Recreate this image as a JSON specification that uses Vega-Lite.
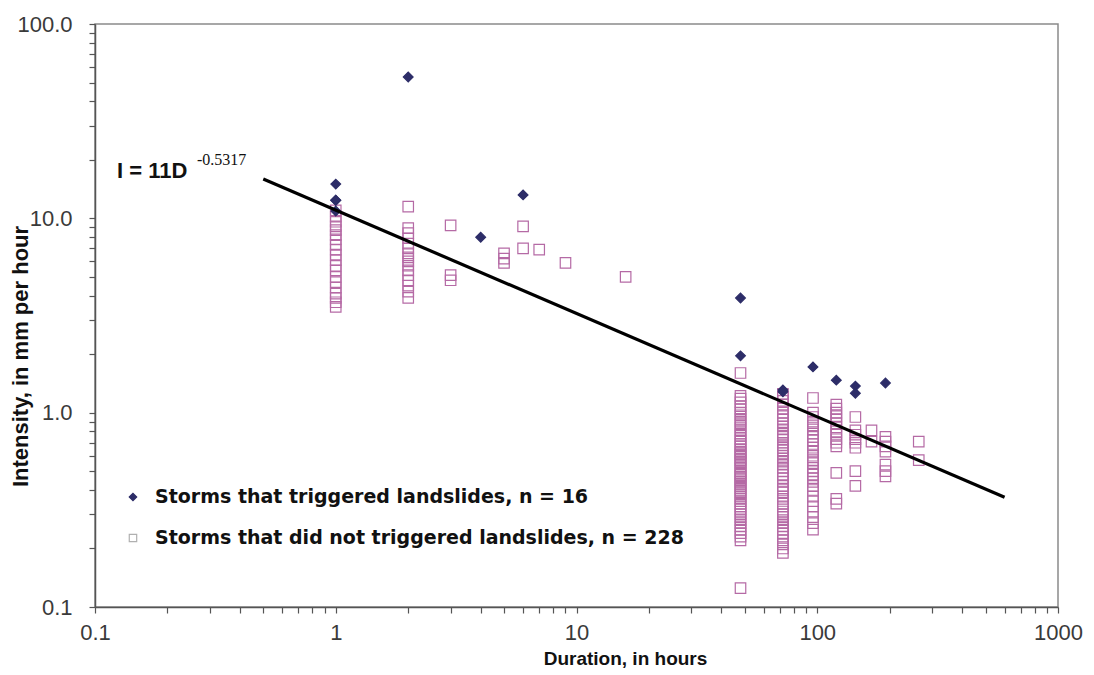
{
  "$schema": "https://vega.github.io/schema/vega-lite/v6.json",
  "width": 963,
  "height": 583,
  "autosize": {"type": "none"},
  "padding": {"left": 95, "top": 24, "right": 36, "bottom": 68},
  "background": "white",
  "config": {
    "font": "Liberation Sans",
    "view": {"stroke": "#8a8a8a", "strokeWidth": 1.5},
    "axis": {
      "grid": false,
      "domainColor": "#555555",
      "domainWidth": 1.5,
      "tickColor": "#555555",
      "tickWidth": 1.2,
      "tickSize": 6,
      "labelFont": "Liberation Sans",
      "labelFontSize": 22,
      "labelColor": "#3a3a3a",
      "titleFont": "Liberation Sans",
      "titleFontWeight": "bold",
      "titleColor": "#111111"
    }
  },
  "datasets": {
    "storms": [
      {"D": 1, "I": 11.0, "type": "no"}, {"D": 1, "I": 10.2, "type": "no"}, {"D": 1, "I": 9.6, "type": "no"}, {"D": 1, "I": 9.1, "type": "no"},
      {"D": 1, "I": 8.7, "type": "no"}, {"D": 1, "I": 8.2, "type": "no"}, {"D": 1, "I": 7.8, "type": "no"}, {"D": 1, "I": 7.3, "type": "no"},
      {"D": 1, "I": 6.9, "type": "no"}, {"D": 1, "I": 6.5, "type": "no"}, {"D": 1, "I": 6.1, "type": "no"}, {"D": 1, "I": 5.7, "type": "no"},
      {"D": 1, "I": 5.4, "type": "no"}, {"D": 1, "I": 5.0, "type": "no"}, {"D": 1, "I": 4.7, "type": "no"}, {"D": 1, "I": 4.4, "type": "no"},
      {"D": 1, "I": 4.1, "type": "no"}, {"D": 1, "I": 3.9, "type": "no"}, {"D": 1, "I": 3.7, "type": "no"}, {"D": 1, "I": 3.5, "type": "no"},
      {"D": 2, "I": 11.5, "type": "no"}, {"D": 2, "I": 8.9, "type": "no"}, {"D": 2, "I": 8.4, "type": "no"}, {"D": 2, "I": 7.9, "type": "no"},
      {"D": 2, "I": 7.4, "type": "no"}, {"D": 2, "I": 7.0, "type": "no"}, {"D": 2, "I": 6.6, "type": "no"}, {"D": 2, "I": 6.3, "type": "no"},
      {"D": 2, "I": 6.0, "type": "no"}, {"D": 2, "I": 5.7, "type": "no"}, {"D": 2, "I": 5.4, "type": "no"}, {"D": 2, "I": 5.1, "type": "no"},
      {"D": 2, "I": 4.8, "type": "no"}, {"D": 2, "I": 4.5, "type": "no"}, {"D": 2, "I": 4.2, "type": "no"}, {"D": 2, "I": 3.9, "type": "no"},
      {"D": 3, "I": 9.2, "type": "no"}, {"D": 3, "I": 5.1, "type": "no"}, {"D": 3, "I": 4.8, "type": "no"},
      {"D": 5, "I": 6.6, "type": "no"}, {"D": 5, "I": 6.2, "type": "no"}, {"D": 5, "I": 5.9, "type": "no"},
      {"D": 6, "I": 9.1, "type": "no"}, {"D": 6, "I": 7.0, "type": "no"},
      {"D": 7, "I": 6.9, "type": "no"}, {"D": 9, "I": 5.9, "type": "no"}, {"D": 16, "I": 5.0, "type": "no"},
      {"D": 48, "I": 1.6, "type": "no"}, {"D": 48, "I": 1.22, "type": "no"}, {"D": 48, "I": 1.18, "type": "no"}, {"D": 48, "I": 1.13, "type": "no"},
      {"D": 48, "I": 1.08, "type": "no"}, {"D": 48, "I": 1.04, "type": "no"}, {"D": 48, "I": 1.0, "type": "no"}, {"D": 48, "I": 0.97, "type": "no"},
      {"D": 48, "I": 0.93, "type": "no"}, {"D": 48, "I": 0.9, "type": "no"}, {"D": 48, "I": 0.87, "type": "no"}, {"D": 48, "I": 0.84, "type": "no"},
      {"D": 48, "I": 0.81, "type": "no"}, {"D": 48, "I": 0.78, "type": "no"}, {"D": 48, "I": 0.76, "type": "no"}, {"D": 48, "I": 0.73, "type": "no"},
      {"D": 48, "I": 0.71, "type": "no"}, {"D": 48, "I": 0.69, "type": "no"}, {"D": 48, "I": 0.67, "type": "no"}, {"D": 48, "I": 0.65, "type": "no"},
      {"D": 48, "I": 0.63, "type": "no"}, {"D": 48, "I": 0.62, "type": "no"}, {"D": 48, "I": 0.61, "type": "no"}, {"D": 48, "I": 0.6, "type": "no"},
      {"D": 48, "I": 0.58, "type": "no"}, {"D": 48, "I": 0.57, "type": "no"}, {"D": 48, "I": 0.56, "type": "no"}, {"D": 48, "I": 0.55, "type": "no"},
      {"D": 48, "I": 0.53, "type": "no"}, {"D": 48, "I": 0.52, "type": "no"}, {"D": 48, "I": 0.5, "type": "no"}, {"D": 48, "I": 0.49, "type": "no"},
      {"D": 48, "I": 0.48, "type": "no"}, {"D": 48, "I": 0.47, "type": "no"}, {"D": 48, "I": 0.46, "type": "no"}, {"D": 48, "I": 0.45, "type": "no"},
      {"D": 48, "I": 0.44, "type": "no"}, {"D": 48, "I": 0.43, "type": "no"}, {"D": 48, "I": 0.42, "type": "no"}, {"D": 48, "I": 0.41, "type": "no"},
      {"D": 48, "I": 0.4, "type": "no"}, {"D": 48, "I": 0.39, "type": "no"}, {"D": 48, "I": 0.38, "type": "no"}, {"D": 48, "I": 0.37, "type": "no"},
      {"D": 48, "I": 0.36, "type": "no"}, {"D": 48, "I": 0.35, "type": "no"}, {"D": 48, "I": 0.34, "type": "no"}, {"D": 48, "I": 0.33, "type": "no"},
      {"D": 48, "I": 0.32, "type": "no"}, {"D": 48, "I": 0.31, "type": "no"}, {"D": 48, "I": 0.3, "type": "no"}, {"D": 48, "I": 0.29, "type": "no"},
      {"D": 48, "I": 0.28, "type": "no"}, {"D": 48, "I": 0.27, "type": "no"}, {"D": 48, "I": 0.26, "type": "no"}, {"D": 48, "I": 0.25, "type": "no"},
      {"D": 48, "I": 0.24, "type": "no"}, {"D": 48, "I": 0.23, "type": "no"}, {"D": 48, "I": 0.22, "type": "no"}, {"D": 48, "I": 0.125, "type": "no"},
      {"D": 72, "I": 1.25, "type": "no"}, {"D": 72, "I": 1.2, "type": "no"}, {"D": 72, "I": 1.15, "type": "no"}, {"D": 72, "I": 1.1, "type": "no"},
      {"D": 72, "I": 1.05, "type": "no"}, {"D": 72, "I": 1.0, "type": "no"}, {"D": 72, "I": 0.96, "type": "no"}, {"D": 72, "I": 0.92, "type": "no"},
      {"D": 72, "I": 0.88, "type": "no"}, {"D": 72, "I": 0.85, "type": "no"}, {"D": 72, "I": 0.82, "type": "no"}, {"D": 72, "I": 0.79, "type": "no"},
      {"D": 72, "I": 0.76, "type": "no"}, {"D": 72, "I": 0.73, "type": "no"}, {"D": 72, "I": 0.7, "type": "no"}, {"D": 72, "I": 0.68, "type": "no"},
      {"D": 72, "I": 0.66, "type": "no"}, {"D": 72, "I": 0.64, "type": "no"}, {"D": 72, "I": 0.62, "type": "no"}, {"D": 72, "I": 0.6, "type": "no"},
      {"D": 72, "I": 0.58, "type": "no"}, {"D": 72, "I": 0.56, "type": "no"}, {"D": 72, "I": 0.54, "type": "no"}, {"D": 72, "I": 0.52, "type": "no"},
      {"D": 72, "I": 0.5, "type": "no"}, {"D": 72, "I": 0.48, "type": "no"}, {"D": 72, "I": 0.46, "type": "no"}, {"D": 72, "I": 0.44, "type": "no"},
      {"D": 72, "I": 0.42, "type": "no"}, {"D": 72, "I": 0.4, "type": "no"}, {"D": 72, "I": 0.39, "type": "no"}, {"D": 72, "I": 0.37, "type": "no"},
      {"D": 72, "I": 0.36, "type": "no"}, {"D": 72, "I": 0.34, "type": "no"}, {"D": 72, "I": 0.33, "type": "no"}, {"D": 72, "I": 0.31, "type": "no"},
      {"D": 72, "I": 0.3, "type": "no"}, {"D": 72, "I": 0.29, "type": "no"}, {"D": 72, "I": 0.28, "type": "no"}, {"D": 72, "I": 0.27, "type": "no"},
      {"D": 72, "I": 0.26, "type": "no"}, {"D": 72, "I": 0.25, "type": "no"}, {"D": 72, "I": 0.24, "type": "no"}, {"D": 72, "I": 0.23, "type": "no"},
      {"D": 72, "I": 0.22, "type": "no"}, {"D": 72, "I": 0.21, "type": "no"}, {"D": 72, "I": 0.2, "type": "no"}, {"D": 72, "I": 0.19, "type": "no"},
      {"D": 96, "I": 1.19, "type": "no"}, {"D": 96, "I": 1.0, "type": "no"}, {"D": 96, "I": 0.95, "type": "no"}, {"D": 96, "I": 0.9, "type": "no"},
      {"D": 96, "I": 0.86, "type": "no"}, {"D": 96, "I": 0.82, "type": "no"}, {"D": 96, "I": 0.78, "type": "no"}, {"D": 96, "I": 0.75, "type": "no"},
      {"D": 96, "I": 0.72, "type": "no"}, {"D": 96, "I": 0.69, "type": "no"}, {"D": 96, "I": 0.66, "type": "no"}, {"D": 96, "I": 0.63, "type": "no"},
      {"D": 96, "I": 0.6, "type": "no"}, {"D": 96, "I": 0.57, "type": "no"}, {"D": 96, "I": 0.55, "type": "no"}, {"D": 96, "I": 0.52, "type": "no"},
      {"D": 96, "I": 0.5, "type": "no"}, {"D": 96, "I": 0.48, "type": "no"}, {"D": 96, "I": 0.46, "type": "no"}, {"D": 96, "I": 0.44, "type": "no"},
      {"D": 96, "I": 0.42, "type": "no"}, {"D": 96, "I": 0.4, "type": "no"}, {"D": 96, "I": 0.37, "type": "no"}, {"D": 96, "I": 0.35, "type": "no"},
      {"D": 96, "I": 0.33, "type": "no"}, {"D": 96, "I": 0.31, "type": "no"}, {"D": 96, "I": 0.29, "type": "no"}, {"D": 96, "I": 0.27, "type": "no"},
      {"D": 96, "I": 0.25, "type": "no"},
      {"D": 120, "I": 1.1, "type": "no"}, {"D": 120, "I": 1.05, "type": "no"}, {"D": 120, "I": 1.0, "type": "no"}, {"D": 120, "I": 0.96, "type": "no"},
      {"D": 120, "I": 0.92, "type": "no"}, {"D": 120, "I": 0.88, "type": "no"}, {"D": 120, "I": 0.84, "type": "no"}, {"D": 120, "I": 0.8, "type": "no"},
      {"D": 120, "I": 0.77, "type": "no"}, {"D": 120, "I": 0.73, "type": "no"}, {"D": 120, "I": 0.7, "type": "no"}, {"D": 120, "I": 0.67, "type": "no"},
      {"D": 120, "I": 0.49, "type": "no"}, {"D": 120, "I": 0.36, "type": "no"}, {"D": 120, "I": 0.34, "type": "no"},
      {"D": 144, "I": 0.95, "type": "no"}, {"D": 144, "I": 0.81, "type": "no"}, {"D": 144, "I": 0.77, "type": "no"}, {"D": 144, "I": 0.73, "type": "no"},
      {"D": 144, "I": 0.7, "type": "no"}, {"D": 144, "I": 0.66, "type": "no"}, {"D": 144, "I": 0.5, "type": "no"}, {"D": 144, "I": 0.42, "type": "no"},
      {"D": 168, "I": 0.81, "type": "no"}, {"D": 168, "I": 0.71, "type": "no"},
      {"D": 192, "I": 0.75, "type": "no"}, {"D": 192, "I": 0.71, "type": "no"}, {"D": 192, "I": 0.67, "type": "no"}, {"D": 192, "I": 0.63, "type": "no"},
      {"D": 192, "I": 0.54, "type": "no"}, {"D": 192, "I": 0.5, "type": "no"}, {"D": 192, "I": 0.47, "type": "no"},
      {"D": 264, "I": 0.71, "type": "no"}, {"D": 264, "I": 0.57, "type": "no"},
      {"D": 1, "I": 15.0, "type": "yes"}, {"D": 1, "I": 12.4, "type": "yes"}, {"D": 1, "I": 10.9, "type": "yes"},
      {"D": 2, "I": 53.4, "type": "yes"}, {"D": 1, "I": 12.4, "type": "yes"},
      {"D": 4, "I": 8.0, "type": "yes"}, {"D": 6, "I": 13.2, "type": "yes"},
      {"D": 48, "I": 3.89, "type": "yes"}, {"D": 48, "I": 1.96, "type": "yes"},
      {"D": 72, "I": 1.31, "type": "yes"}, {"D": 72, "I": 1.28, "type": "yes"},
      {"D": 96, "I": 1.72, "type": "yes"}, {"D": 120, "I": 1.47, "type": "yes"},
      {"D": 144, "I": 1.37, "type": "yes"}, {"D": 144, "I": 1.26, "type": "yes"},
      {"D": 192, "I": 1.42, "type": "yes"}
    ],
    "fit": [
      {"D": 0.5, "I": 15.93},
      {"D": 600, "I": 0.367}
    ],
    "key": [
      {"D": 0.1438, "I": 0.3683, "type": "yes", "label": "Storms that triggered landslides, n = 16"},
      {"D": 0.1438, "I": 0.2265, "type": "no", "label": "Storms that did not triggered landslides, n = 228"}
    ],
    "notes": [
      {"D": 0.1234, "I": 17.5, "text": "I = 11D", "part": "main"},
      {"D": 0.265, "I": 20.0, "text": "-0.5317", "part": "exp"}
    ]
  },
  "encoding": {
    "x": {
      "field": "D",
      "type": "quantitative",
      "scale": {"type": "log", "domain": [0.1, 1000], "nice": false},
      "title": "Duration, in hours",
      "axis": {
        "values": [0.1, 0.2, 0.3, 0.4, 0.5, 0.6, 0.7, 0.8, 0.9, 1, 2, 3, 4, 5, 6, 7, 8, 9, 10, 20, 30, 40, 50, 60, 70, 80, 90, 100, 200, 300, 400, 500, 600, 700, 800, 900, 1000],
        "labelExpr": "abs(log(datum.value) / LN10 - round(log(datum.value) / LN10)) < 0.001 ? format(datum.value, '~g') : ''",
        "labelPadding": 9,
        "labelOverlap": false,
        "labelFlush": false,
        "titleFontSize": 19,
        "titlePadding": 6,
        "titleX": 530,
        "titleAlign": "center"
      }
    },
    "y": {
      "field": "I",
      "type": "quantitative",
      "scale": {"type": "log", "domain": [0.1, 100], "nice": false},
      "title": "Intensity, in mm per hour",
      "axis": {
        "values": [0.1, 0.2, 0.3, 0.4, 0.5, 0.6, 0.7, 0.8, 0.9, 1, 2, 3, 4, 5, 6, 7, 8, 9, 10, 20, 30, 40, 50, 60, 70, 80, 90, 100],
        "labelExpr": "abs(log(datum.value) / LN10 - round(log(datum.value) / LN10)) < 0.001 ? (datum.value < 0.5 ? '0.1' : format(datum.value, '.1f')) : ''",
        "labelPadding": 17,
        "labelOverlap": false,
        "labelFlush": false,
        "titleFontSize": 22,
        "titleX": -75,
        "titleY": 332,
        "titleBaseline": "middle",
        "titleAlign": "center",
        "titleAngle": -90
      }
    }
  },
  "layer": [
    {
      "data": {"name": "storms"},
      "mark": {"type": "point", "strokeWidth": 1.2, "opacity": 1},
      "encoding": {
        "shape": {
          "field": "type",
          "type": "nominal",
          "scale": {"domain": ["yes", "no"], "range": ["diamond", "square"]},
          "legend": null
        },
        "fill": {
          "field": "type",
          "type": "nominal",
          "scale": {"domain": ["yes", "no"], "range": ["#2d2d68", "transparent"]},
          "legend": null
        },
        "stroke": {
          "field": "type",
          "type": "nominal",
          "scale": {"domain": ["yes", "no"], "range": ["#2d2d68", "#b56aa5"]},
          "legend": null
        },
        "size": {
          "field": "type",
          "type": "nominal",
          "scale": {"domain": ["yes", "no"], "range": [95, 110]},
          "legend": null
        }
      }
    },
    {
      "data": {"name": "fit"},
      "mark": {"type": "line", "color": "black", "strokeWidth": 3.2},
      "encoding": {}
    },
    {
      "data": {"name": "key"},
      "mark": {"type": "point", "strokeWidth": 1.2, "opacity": 1},
      "encoding": {
        "shape": {"field": "type", "type": "nominal", "legend": null},
        "fill": {"condition": {"test": "datum.type == 'yes'", "value": "#2d2d68"}, "value": "transparent"},
        "stroke": {"condition": {"test": "datum.type == 'yes'", "value": "#2d2d68"}, "value": "#b0b0b0"},
        "size": {"value": 55}
      }
    },
    {
      "data": {"name": "key"},
      "mark": {"type": "text", "align": "left", "baseline": "middle", "dx": 22, "font": "DejaVu Sans", "fontSize": 19, "fontWeight": "bold", "color": "#111111"},
      "encoding": {"text": {"field": "label"}}
    },
    {
      "data": {"name": "notes"},
      "transform": [{"filter": "datum.part == 'main'"}],
      "mark": {"type": "text", "align": "left", "baseline": "middle", "font": "Liberation Sans", "fontSize": 22, "fontWeight": "bold", "color": "#111111"},
      "encoding": {"text": {"field": "text"}}
    },
    {
      "data": {"name": "notes"},
      "transform": [{"filter": "datum.part == 'exp'"}],
      "mark": {"type": "text", "align": "left", "baseline": "middle", "font": "Liberation Serif", "fontSize": 16, "color": "#111111"},
      "encoding": {"text": {"field": "text"}}
    }
  ]
}
